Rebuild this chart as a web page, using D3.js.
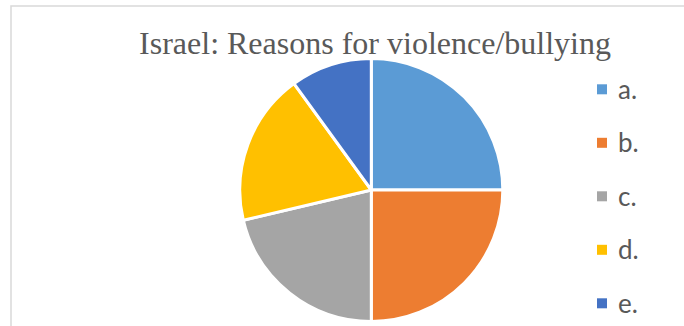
<!DOCTYPE html>
<html>
<head>
<meta charset="utf-8">
<script src="https://cdn.jsdelivr.net/npm/d3@7"></script>
<style>
  body { margin: 0; background: #fff; }
</style>
</head>
<body>
<script>
// Israel: reasons for violence/bullying (share, %)
var categories = ["a.", "b.", "c.", "d.", "e."];
var values = [25, 25, 21.3, 18.7, 10];
var colors = ["#5B9BD5", "#ED7D31", "#A5A5A5", "#FFC000", "#4472C4"];
var title = "Israel: Reasons for violence/bullying";

var width = 684, height = 326;
var cx = 371.3, cy = 190, radius = 131.5;

var svg = d3.select("body").append("svg")
    .attr("width", width)
    .attr("height", height);

svg.append("rect")
    .attr("width", width)
    .attr("height", height)
    .attr("fill", "#fff");

// chart frame (runs off the right and bottom edge)
svg.append("rect")
    .attr("x", 11)
    .attr("y", 6)
    .attr("width", width + 20)
    .attr("height", height + 20)
    .attr("fill", "none")
    .attr("stroke", "#d9d9d9")
    .attr("stroke-width", 1.5);

svg.append("text")
    .attr("x", 375)
    .attr("y", 54)
    .attr("text-anchor", "middle")
    .style("font-family", "'Liberation Serif', 'Times New Roman', serif")
    .style("font-size", "32px")
    .style("fill", "#595959")
    .text(title);

var color = d3.scaleOrdinal()
    .domain(categories)
    .range(colors);

var pie = d3.pie()
    .sort(null)
    .value(function(d) { return d.value; });

var arc = d3.arc()
    .innerRadius(0)
    .outerRadius(radius);

var data = categories.map(function(c, i) { return {name: c, value: values[i]}; });

var g = svg.append("g")
    .attr("transform", "translate(" + cx + "," + cy + ")");

g.selectAll("path")
    .data(pie(data))
    .enter().append("path")
    .attr("d", arc)
    .attr("fill", function(d) { return color(d.data.name); })
    .attr("stroke", "#fff")
    .attr("stroke-width", 3)
    .attr("stroke-linejoin", "round");

// legend
var ly = d3.scalePoint()
    .domain(categories)
    .range([89.3, 303.3]);

var legend = svg.append("g")
    .selectAll("g")
    .data(categories)
    .enter().append("g")
    .attr("transform", function(d) { return "translate(597," + ly(d) + ")"; });

legend.append("rect")
    .attr("x", 0)
    .attr("y", -5)
    .attr("width", 10)
    .attr("height", 10)
    .attr("fill", function(d) { return color(d); });

legend.append("text")
    .attr("x", 21)
    .attr("y", 0)
    .attr("dy", "0.36em")
    .style("font-family", "Lato, 'Open Sans', sans-serif")
    .style("font-size", "26px")
    .style("fill", "#595959")
    .text(function(d) { return d; });
</script>
</body>
</html>
